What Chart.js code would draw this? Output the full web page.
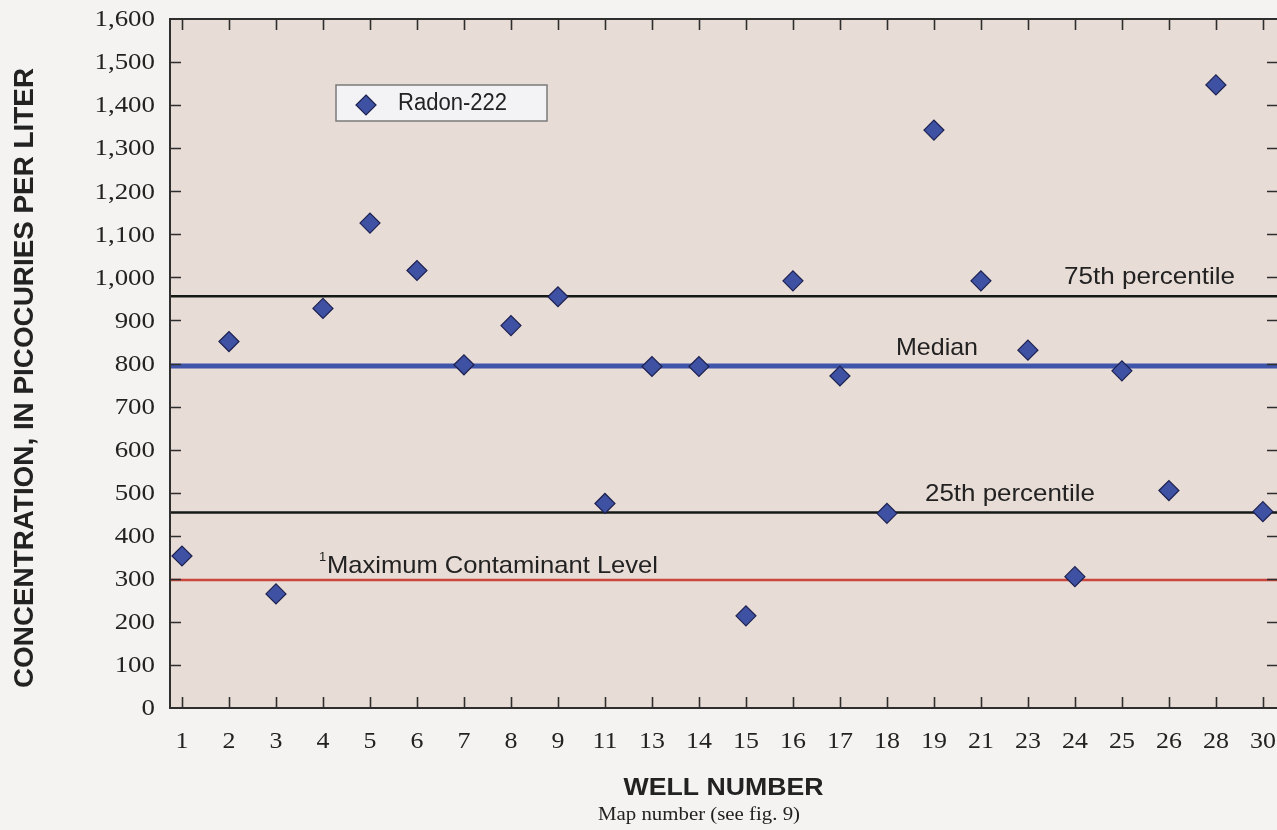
<!DOCTYPE html>
<html>
<head>
<meta charset="utf-8">
<script src="https://cdn.jsdelivr.net/npm/chart.js@4"></script>
<style>
  html, body { margin: 0; padding: 0; background: #f4f3f2; }
  canvas { display: block; }
</style>
</head>
<body>
<canvas id="radonChart" width="1277" height="830"></canvas>
<script>
// well numbers (map numbers) along the x axis
const wells = ['1', '2', '3', '4', '5', '6', '7', '8', '9', '11', '13', '14', '15', '16', '17', '18', '19', '21', '23', '24', '25', '26', '28', '30'];
// radon-222, picocuries per liter
const radon = [353, 851, 265, 928, 1126, 1016, 797, 888, 955, 475, 793, 793, 214, 992, 771, 452, 1342, 992, 831, 305, 783, 505, 1447, 456];
const yTicks = [0, 100, 200, 300, 400, 500, 600, 700, 800, 900, 1000, 1100, 1200, 1300, 1400, 1500, 1600];
const pct75 = 956;
const median = 794;
const pct25 = 454;
const mcl = 297;

const xMin = -0.255, xMax = 23.3;
const SANS = '"Liberation Sans", Arial, sans-serif';
const SERIF = '"Liberation Serif", "Times New Roman", serif';
const INK = '#222222';

function hline(label, y, color, width) {
    return {
        label: label,
        data: [{ x: xMin, y: y }, { x: xMax, y: y }],
        showLine: true,
        borderColor: color,
        borderWidth: width,
        pointRadius: 0,
        order: 2
    };
}

// text with a horizontal stretch so it fills a given width
function txt(ctx, s, x, y, font, align, w, sx) {
    ctx.save();
    ctx.font = font;
    const m = ctx.measureText(s).width;
    const k = w ? w / m : (sx || 1);
    ctx.translate(x, y);
    ctx.scale(k, 1);
    ctx.textAlign = align;
    ctx.textBaseline = 'middle';
    ctx.fillStyle = INK;
    ctx.fillText(s, 0, 0);
    ctx.restore();
}

const plotBg = {
    id: 'plotBg',
    beforeDraw(chart) {
        const { ctx, chartArea: a } = chart;
        ctx.save();
        ctx.fillStyle = '#e8dcd6';
        ctx.fillRect(a.left, a.top, a.right - a.left, a.bottom - a.top);
        ctx.restore();
    }
};

const frame = {
    id: 'frame',
    afterDatasetsDraw(chart) {
        const { ctx, chartArea: a, scales: { x, y } } = chart;
        ctx.save();
        ctx.strokeStyle = '#2e2e2e';
        ctx.lineWidth = 2;
        ctx.beginPath();
        ctx.moveTo(a.right, a.top); ctx.lineTo(a.left, a.top);
        ctx.lineTo(a.left, a.bottom); ctx.lineTo(a.right, a.bottom);
        ctx.stroke();
        ctx.lineWidth = 1.6;
        ctx.beginPath();
        wells.forEach((w, i) => {
            const px = Math.round(x.getPixelForValue(i)) + 0.5;
            ctx.moveTo(px, a.bottom); ctx.lineTo(px, a.bottom - 11);
            ctx.moveTo(px, a.top); ctx.lineTo(px, a.top + 11);
        });
        yTicks.forEach(v => {
            if (v === 0 || v === 1600) return;
            const py = Math.round(y.getPixelForValue(v)) + 0.5;
            ctx.moveTo(a.left, py); ctx.lineTo(a.left + 11, py);
            ctx.moveTo(a.right, py); ctx.lineTo(a.right - 10, py);
        });
        ctx.stroke();
        ctx.restore();

        // tick labels
        yTicks.forEach(v => {
            txt(ctx, v.toLocaleString('en-US'), 155, y.getPixelForValue(v) + 1, '24px ' + SERIF, 'right', 0, 1.12);
        });
        wells.forEach((w, i) => {
            txt(ctx, w, x.getPixelForValue(i), 742, '24px ' + SERIF, 'center', 0, 1.08);
        });

        // reference line labels
        txt(ctx, '75th percentile', 1064, 277, '24px ' + SANS, 'left', 171);
        txt(ctx, 'Median', 896, 348, '24px ' + SANS, 'left', 82);
        txt(ctx, '25th percentile', 925, 494, '24px ' + SANS, 'left', 170);
        txt(ctx, '1', 319, 557, '13px ' + SANS, 'left', 0, 1);
        txt(ctx, 'Maximum Contaminant Level', 327, 566, '24px ' + SANS, 'left', 331);

        // legend box
        const ds = chart.data.datasets[0];
        ctx.save();
        ctx.fillStyle = '#f3f2f4';
        ctx.strokeStyle = '#7a7a7a';
        ctx.lineWidth = 1.5;
        ctx.fillRect(336, 85, 211, 36);
        ctx.strokeRect(336, 85, 211, 36);
        ctx.beginPath();
        ctx.moveTo(366, 95); ctx.lineTo(376, 105); ctx.lineTo(366, 115); ctx.lineTo(356, 105);
        ctx.closePath();
        ctx.fillStyle = ds.backgroundColor;
        ctx.fill();
        ctx.strokeStyle = ds.borderColor;
        ctx.lineWidth = 1.2;
        ctx.stroke();
        ctx.restore();
        txt(ctx, ds.label, 398, 104, '23px ' + SANS, 'left', 109);

        // axis titles
        txt(ctx, 'WELL NUMBER', (a.left + a.right) / 2, 789, 'bold 23px ' + SANS, 'center', 200);
        txt(ctx, 'Map number (see fig. 9)', 699, 815, '18px ' + SERIF, 'center', 202);
        ctx.save();
        ctx.translate(25, 378);
        ctx.rotate(-Math.PI / 2);
        ctx.font = 'bold 23px ' + SANS;
        const m = ctx.measureText('CONCENTRATION, IN PICOCURIES PER LITER').width;
        ctx.scale(620 / m, 1.2);
        ctx.textAlign = 'center';
        ctx.textBaseline = 'middle';
        ctx.fillStyle = INK;
        ctx.fillText('CONCENTRATION, IN PICOCURIES PER LITER', 0, 0);
        ctx.restore();
    }
};

new Chart(document.getElementById('radonChart'), {
    type: 'scatter',
    data: {
        datasets: [
            {
                label: 'Radon-222',
                data: radon.map((v, i) => ({ x: i, y: v })),
                pointStyle: 'rectRot',
                pointRadius: 10,
                pointHoverRadius: 10,
                backgroundColor: '#3e51a2',
                borderColor: '#1d2150',
                borderWidth: 1.2,
                order: 1
            },
            hline('75th percentile', pct75, '#151a15', 2.5),
            hline('Median', median, '#3f55aa', 5),
            hline('25th percentile', pct25, '#151a15', 2.5),
            hline('Maximum Contaminant Level', mcl, '#c9453d', 2.5)
        ]
    },
    options: {
        responsive: false,
        animation: false,
        devicePixelRatio: 1,
        layout: { autoPadding: false, padding: { top: 19, right: 0, bottom: 0, left: 0 } },
        plugins: { legend: { display: false }, tooltip: { enabled: false } },
        scales: {
            x: {
                type: 'linear',
                min: xMin,
                max: xMax,
                grid: { display: false },
                border: { display: false },
                ticks: { display: false, stepSize: 1 },
                afterFit(scale) { scale.height = 122; }
            },
            y: {
                min: 0,
                max: 1600,
                grid: { display: false },
                border: { display: false },
                ticks: { display: false, stepSize: 100 },
                afterFit(scale) { scale.width = 170; }
            }
        }
    },
    plugins: [plotBg, frame]
});
</script>
</body>
</html>
